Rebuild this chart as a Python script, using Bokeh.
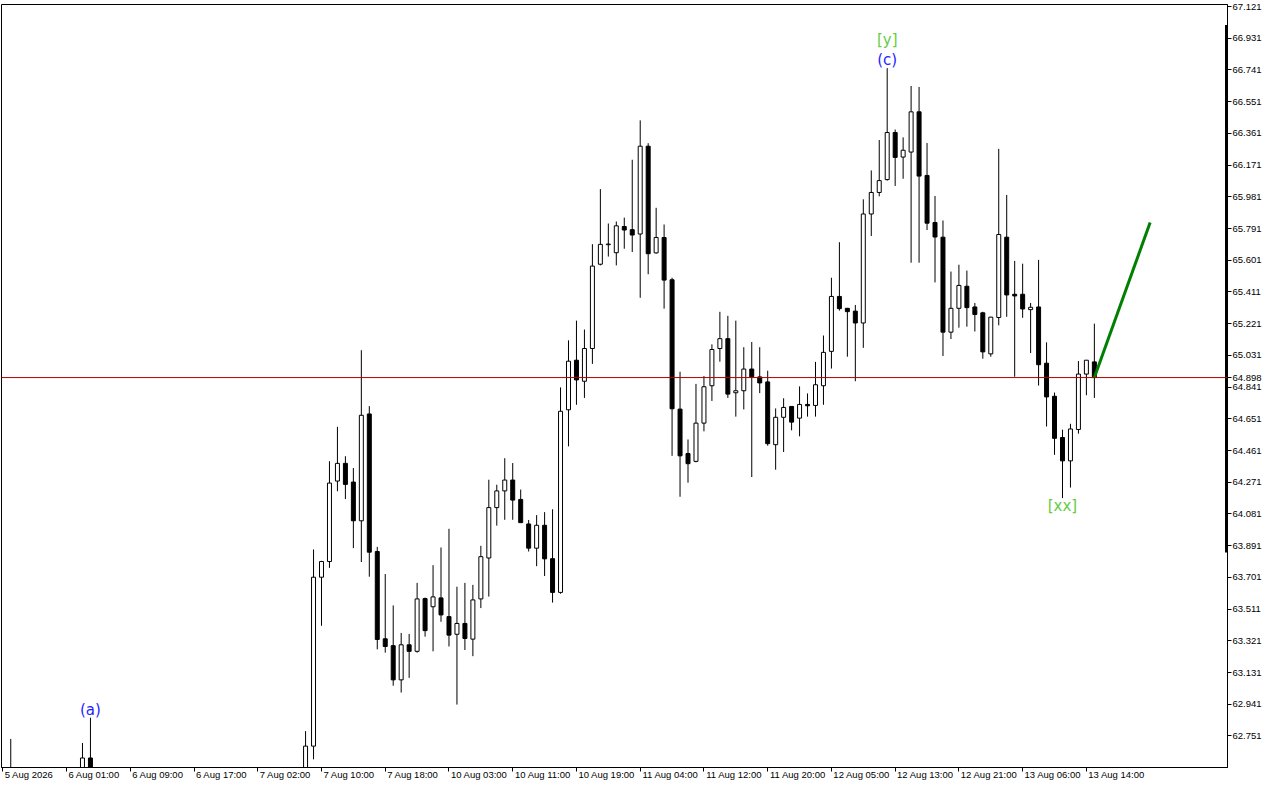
from bokeh.plotting import figure
from bokeh.models import (ColumnDataSource, FixedTicker, Range1d, Span,
                          PrintfTickFormatter)
from bokeh.core.properties import value
from bokeh.embed import file_html
from bokeh.resources import INLINE

# ---------------- data (H1 candles, bar index 0..136) ----------------
opens = [62.45, 62.40, 62.35, 62.30, 62.34, 62.41, 62.44, 62.47, 62.43, 62.50,
         62.619, 62.40, 62.32, 62.25, 62.18, 62.22, 62.17, 62.10, 62.15, 62.21,
         62.16, 62.12, 62.18, 62.24, 62.29, 62.26, 62.31, 62.36, 62.33, 62.38,
         62.35, 62.40, 62.37, 62.42, 62.39, 62.44, 62.41, 62.45, 62.690, 63.702,
         63.796, 64.278, 64.384, 64.272, 64.040, 64.680, 63.856, 63.333, 63.292, 63.087,
         63.297, 63.258, 63.574, 63.525, 63.578, 63.466, 63.360, 63.425, 63.331, 63.572,
         63.817, 64.119, 64.219, 64.284, 64.168, 64.021, 63.876, 64.013, 63.813, 63.611,
         64.705, 65.002, 64.876, 65.072, 65.577, 65.694, 65.646, 65.803, 65.784, 65.758,
         66.284, 65.645, 65.737, 65.484, 64.709, 64.443, 64.396, 64.625, 64.849, 65.072,
         65.131, 64.807, 64.819, 64.949, 64.902, 64.872, 64.496, 64.660, 64.725, 64.655,
         64.737, 64.731, 64.849, 65.055, 65.384, 65.313, 65.296, 65.225, 65.878, 66.007,
         66.084, 66.366, 66.219, 66.249, 66.490, 66.109, 65.827, 65.739, 65.170, 65.313,
         65.445, 65.321, 65.286, 65.040, 65.258, 65.739, 65.397, 65.397, 65.305, 65.321,
         64.984, 64.786, 64.539, 64.399, 64.587, 64.919, 64.992]

highs = [62.733, 62.48, 62.42, 62.38, 62.45, 62.50, 62.52, 62.53, 62.51, 62.709,
         62.860, 62.48, 62.40, 62.33, 62.27, 62.30, 62.24, 62.19, 62.26, 62.29,
         62.23, 62.20, 62.28, 62.33, 62.37, 62.34, 62.40, 62.44, 62.41, 62.46,
         62.43, 62.48, 62.45, 62.50, 62.47, 62.52, 62.50, 62.780, 63.868, 63.800,
         64.397, 64.603, 64.427, 64.356, 65.062, 64.727, 63.884, 63.721, 63.533, 63.368,
         63.362, 63.668, 63.580, 63.774, 63.880, 63.992, 63.645, 63.668, 63.656, 63.890,
         64.286, 64.256, 64.415, 64.386, 64.227, 64.045, 64.074, 64.092, 64.109, 64.839,
         65.121, 65.239, 65.186, 65.697, 66.027, 65.821, 65.833, 65.856, 66.203, 66.439,
         66.302, 65.915, 65.815, 65.496, 64.933, 64.527, 64.860, 64.907, 65.097, 65.292,
         65.268, 65.239, 65.080, 65.111, 65.080, 64.939, 64.713, 64.774, 64.727, 64.845,
         64.803, 64.992, 65.150, 65.496, 65.709, 65.315, 65.333, 65.966, 66.139, 66.321,
         66.752, 66.384, 66.337, 66.645, 66.639, 66.303, 65.986, 65.839, 65.533, 65.574,
         65.539, 65.345, 65.292, 65.262, 66.268, 65.992, 65.597, 65.580, 65.345, 65.603,
         65.109, 64.808, 64.586, 64.621, 64.997, 65.002, 65.221]

lows = [62.30, 62.31, 62.26, 62.22, 62.30, 62.36, 62.38, 62.40, 62.39, 62.45,
        62.35, 62.28, 62.20, 62.12, 62.08, 62.14, 62.05, 62.02, 62.11, 62.13,
        62.07, 62.04, 62.14, 62.19, 62.22, 62.18, 62.25, 62.29, 62.26, 62.31,
        62.28, 62.33, 62.30, 62.36, 62.32, 62.38, 62.35, 62.40, 62.611, 63.411,
        63.758, 64.217, 64.170, 63.876, 63.793, 63.705, 63.270, 63.250, 63.052, 63.011,
        63.099, 63.250, 63.346, 63.258, 63.435, 63.287, 62.939, 63.266, 63.229, 63.517,
        63.586, 64.011, 64.046, 64.046, 64.027, 63.856, 63.768, 63.709, 63.550, 63.603,
        64.486, 64.735, 64.776, 64.980, 65.570, 65.623, 65.570, 65.670, 65.650, 65.376,
        65.517, 65.640, 65.311, 64.429, 64.184, 64.268, 64.390, 64.576, 64.758, 64.993,
        64.776, 64.664, 64.707, 64.302, 64.805, 64.490, 64.346, 64.452, 64.582, 64.546,
        64.664, 64.664, 64.735, 64.952, 65.299, 65.023, 64.876, 65.076, 65.746, 65.984,
        66.078, 66.046, 66.089, 65.586, 65.586, 65.782, 65.468, 65.027, 65.129, 65.197,
        65.203, 65.174, 65.011, 65.023, 65.211, 65.262, 64.903, 65.256, 65.045, 64.850,
        64.605, 64.435, 64.176, 64.239, 64.562, 64.792, 64.776]

closes = [62.40, 62.35, 62.30, 62.34, 62.41, 62.44, 62.47, 62.43, 62.50, 62.619,
          62.40, 62.32, 62.25, 62.18, 62.22, 62.17, 62.10, 62.15, 62.21, 62.16,
          62.12, 62.18, 62.24, 62.29, 62.26, 62.31, 62.36, 62.33, 62.38, 62.35,
          62.40, 62.37, 62.42, 62.39, 62.44, 62.41, 62.45, 62.690, 63.702, 63.796,
          64.266, 64.384, 64.258, 64.040, 64.672, 63.852, 63.329, 63.287, 63.087, 63.297,
          63.258, 63.572, 63.382, 63.584, 63.476, 63.355, 63.425, 63.335, 63.566, 63.825,
          64.119, 64.219, 64.284, 64.164, 64.029, 63.876, 64.013, 63.812, 63.611, 64.696,
          64.996, 64.884, 65.072, 65.566, 65.696, 65.698, 65.807, 65.782, 65.752, 66.284,
          65.640, 65.737, 65.482, 64.711, 64.429, 64.382, 64.625, 64.843, 65.066, 65.131,
          64.799, 64.819, 64.949, 64.902, 64.866, 64.502, 64.660, 64.719, 64.631, 64.737,
          64.729, 64.855, 65.049, 65.384, 65.311, 65.293, 65.225, 65.878, 66.007, 66.078,
          66.366, 66.217, 66.260, 66.490, 66.105, 65.823, 65.740, 65.170, 65.313, 65.450,
          65.317, 65.276, 65.052, 65.260, 65.755, 65.393, 65.387, 65.309, 65.319, 64.975,
          64.782, 64.534, 64.399, 64.590, 64.919, 65.002, 64.898]

x_tick_bars = [-1, 7, 15, 23, 31, 39, 47, 55, 63, 71, 79, 87, 95, 103, 111, 119, 127, 135]
x_tick_labels = ["5 Aug 2026", "6 Aug 01:00", "6 Aug 09:00", "6 Aug 17:00",
                 "7 Aug 02:00", "7 Aug 10:00", "7 Aug 18:00", "10 Aug 03:00",
                 "10 Aug 11:00", "10 Aug 19:00", "11 Aug 04:00", "11 Aug 12:00",
                 "11 Aug 20:00", "12 Aug 05:00", "12 Aug 13:00", "12 Aug 21:00",
                 "13 Aug 06:00", "13 Aug 14:00"]
y_tick_values = [62.751, 62.941, 63.131, 63.321, 63.511, 63.701, 63.891, 64.081,
                 64.271, 64.461, 64.651, 64.841, 65.031, 65.221, 65.411, 65.601,
                 65.791, 65.981, 66.171, 66.361, 66.551, 66.741, 66.931, 67.121]
current_price = 64.898

wave_labels = ["(a)", "(c)", "[y]", "[xx]"]
wave_bars = [10, 110, 110, 132]
wave_prices = [62.909, 66.803, 66.921, 64.127]
wave_colors = ["#1f1fff", "#1f1fff", "#66cc44", "#66cc44"]

trend_bars = [136, 143]
trend_prices = [64.898, 65.827]

# ---------------- layout constants ----------------
W, H = 1264, 784
B_LEFT, B_TOP, B_RIGHT, B_BOTTOM = 1, 4, 34, 17
X_START, X_END = -1.1625, 152.71
Y_START, Y_END = 62.562, 67.133
AXIS_FONT = "Liberation Sans"
AXIS_SIZE = 9.5

# left-aligned time labels: label centre placed right of the real tick
CHAR_W = {" ": 0.278, ":": 0.278, "A": 0.667, "u": 0.556, "g": 0.556}
def text_w(s):
    return sum(CHAR_W.get(ch, 0.556) for ch in s) * AXIS_SIZE

px_per_bar = (W - B_LEFT - B_RIGHT) / (X_END - X_START)
label_centres = [round(b + (2.0 + text_w(t) / 2.0) / px_per_bar, 3)
                 for b, t in zip(x_tick_bars, x_tick_labels)]

p = figure(width=W, height=H, output_backend="svg", toolbar_location=None,
           x_range=Range1d(X_START, X_END), y_range=Range1d(Y_START, Y_END),
           y_axis_location="right",
           min_border_left=B_LEFT, min_border_top=B_TOP,
           min_border_right=B_RIGHT, min_border_bottom=B_BOTTOM)
p.xgrid.visible = False
p.ygrid.visible = False
p.background_fill_color = "white"
p.border_fill_color = "white"
p.outline_line_color = "black"
p.outline_line_width = 1

xa = p.xaxis[0]
xa.ticker = FixedTicker(ticks=label_centres, minor_ticks=x_tick_bars)
xa.major_label_overrides = {c: t for c, t in zip(label_centres, x_tick_labels)}
xa.major_label_text_font = AXIS_FONT
xa.major_label_text_font_size = f"{AXIS_SIZE}px"
xa.major_label_text_color = "black"
xa.major_label_standoff = -3
xa.major_tick_line_color = None
xa.major_tick_in = 0
xa.major_tick_out = 4
xa.minor_tick_in = 0
xa.minor_tick_out = 4
xa.minor_tick_line_color = "black"
xa.axis_line_color = "black"

ya = p.yaxis[0]
ya.ticker = FixedTicker(ticks=sorted(y_tick_values + [current_price]))
ya.formatter = PrintfTickFormatter(format="%.3f")
ya.major_label_text_font = AXIS_FONT
ya.major_label_text_font_size = f"{AXIS_SIZE}px"
ya.major_label_text_color = "black"
ya.major_label_standoff = 1
ya.major_tick_in = 0
ya.major_tick_out = 4
ya.major_tick_line_color = "black"
ya.minor_tick_line_color = None
ya.axis_line_color = "black"

# ---------------- candles ----------------
idx = list(range(len(opens)))
fills = ["white" if c >= o else "black" for o, c in zip(opens, closes)]
tops = [max(o, c) for o, c in zip(opens, closes)]
bottoms = [min(o, c) for o, c in zip(opens, closes)]
src = ColumnDataSource(dict(x=idx, o=opens, h=highs, l=lows, c=closes,
                            top=tops, bottom=bottoms, fill=fills))

p.segment(x0="x", y0="l", x1="x", y1="h", source=src, line_color="black", line_width=1)
p.vbar(x="x", width=0.5, top="top", bottom="bottom", source=src,
       fill_color="fill", line_color="black", line_width=1)

# scale bar on the right frame edge (decoration)
p.segment(x0=[X_END], y0=[63.85], x1=[X_END], y1=[67.01], line_color="black", line_width=5)

# current price line
p.add_layout(Span(location=current_price, dimension="width",
                  line_color="#b00000", line_width=1))

# trend line
p.line(trend_bars, trend_prices, line_color="#008000", line_width=3)

# wave labels
wsrc = ColumnDataSource(dict(x=wave_bars, y=wave_prices, t=wave_labels, col=wave_colors))
p.text(x="x", y="y", text="t", source=wsrc, text_color="col",
       text_font=value("DejaVu Sans"), text_font_size="15px",
       text_align="center", text_baseline="middle")

open("out.html", "w").write(file_html(p, INLINE))
